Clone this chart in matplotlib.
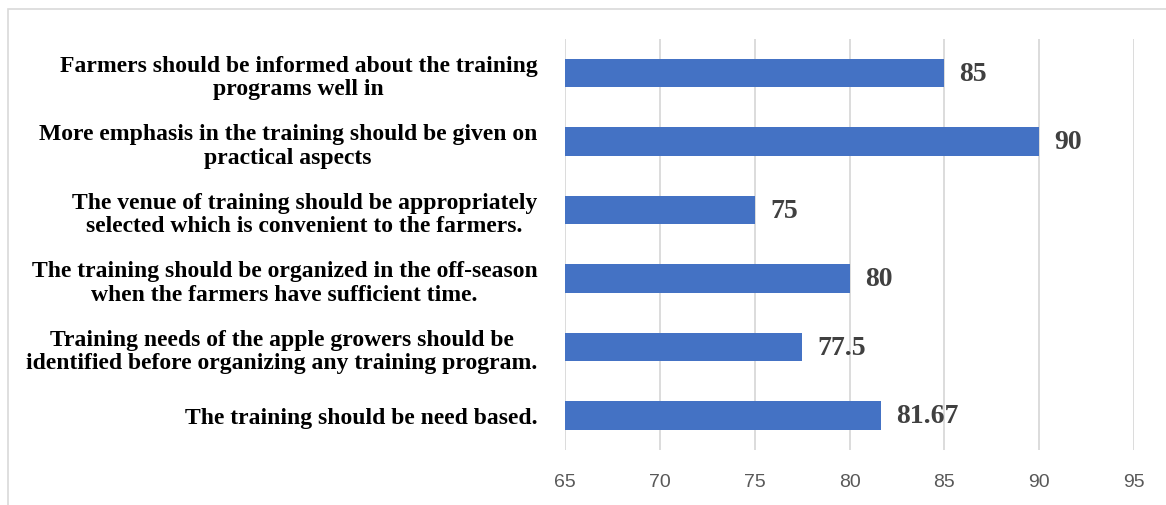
import matplotlib.pyplot as plt
from matplotlib.patches import Rectangle

# data
labels = [
    "Farmers should be informed about the training\nprograms well in",
    "More emphasis in the training should be given on\npractical aspects",
    "The venue of training should be appropriately\nselected which is convenient to the farmers.",
    "The training should be organized in the off-season\nwhen the farmers have sufficient time.",
    "Training needs of the apple growers should be\nidentified before organizing any training program.",
    "The training should be need based.",
]
values = [85, 90, 75, 80, 77.5, 81.67]
value_text = ["85", "90", "75", "80", "77.5", "81.67"]
xticks = [65, 70, 75, 80, 85, 90, 95]

fig = plt.figure(figsize=(11.66, 5.06), dpi=100)
ax = fig.add_axes([0.4846, 0.1092, 0.488, 0.8122])

pos = list(range(len(labels)))
ax.barh(pos, [v - 65 for v in values], left=65, height=0.41, color="#4472C4", zorder=3)

for p, v, t in zip(pos, values, value_text):
    ax.text(v + 0.8, p, t, va="center", ha="left", fontsize=20, fontweight="bold",
            family="Liberation Serif", color="#404040", zorder=4)

ax.set_xlim(65, 95)
ax.set_ylim(5.5, -0.5)
ax.set_xticks(xticks)
ax.set_xticklabels([str(x) for x in xticks], fontsize=14, color="#595959",
                   family="Liberation Sans")
ax.set_yticks(pos)
ax.set_yticklabels(labels, fontsize=17, fontweight="bold", family="Liberation Serif",
                   multialignment="center", linespacing=1.18, color="black")
ax.tick_params(axis="both", length=0)
ax.tick_params(axis="y", pad=20)
ax.tick_params(axis="x", pad=17)
ax.grid(axis="x", color="#d9d9d9", linewidth=1.3, zorder=0)
for s in ax.spines.values():
    s.set_visible(False)

# light frame round the chart
fig.patches.append(Rectangle((8 / 1166, -0.1), 1.1, 1.08, transform=fig.transFigure,
                             fill=False, edgecolor="#d9d9d9", linewidth=1.2))

fig.savefig("out.png", dpi=100)
